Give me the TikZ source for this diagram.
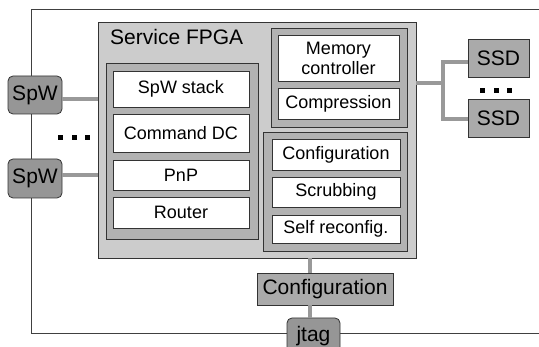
\documentclass[tikz,border=0pt]{standalone}
\usepackage{fontspec}
\setmainfont{Liberation Sans}

\tikzset{
	box/.style={draw=black!80, line width=0.8pt, inner sep=0pt, align=center, font=\fontsize{18}{20}\selectfont},
	whitebox/.style={box, fill=white},
	groupbox/.style={box, fill=gray!60},
	portbox/.style={box, fill=gray!82, rounded corners=5pt, font=\fontsize{21}{23}\selectfont},
	chipbox/.style={box, fill=gray!67, font=\fontsize{21}{23}\selectfont},
	bus/.style={draw=gray!80, line width=4.5pt},
}

\begin{document}
\begin{tikzpicture}[x=1pt, y=-1pt]
	\useasboundingbox (0,0) rectangle (539,347);
	\clip (0,0) rectangle (539,347);
	% board outline
	\draw[black!75, line width=0.8pt] (545,9) -- (31,9) -- (31,333) -- (545,333);

	% service fpga
	\node[box, fill=gray!40, minimum width=318pt, minimum height=236pt] (fpga) at (257,140) {};
	\node[anchor=base west, inner sep=0pt, font=\fontsize{21}{23}\selectfont] (title) at (110,45) {Service FPGA};

	\node[groupbox, minimum width=152pt, minimum height=176pt] (left) at (182,151) {};
	\node[whitebox, minimum width=136pt, minimum height=36pt] (stack) at (181,89) {SpW stack};
	\node[whitebox, minimum width=136pt, minimum height=38pt] (cmd) at (181,133) {Command DC};
	\node[whitebox, minimum width=136pt, minimum height=30pt] (pnp) at (181,175) {PnP};
	\node[whitebox, minimum width=136pt, minimum height=31pt] (router) at (181,212.5) {Router};

	\node[groupbox, minimum width=136pt, minimum height=99pt] (memgrp) at (339,77.5) {};
	\node[whitebox, minimum width=121pt, minimum height=46pt] (mem) at (338.5,58) {Memory\\controller};
	\node[whitebox, minimum width=121pt, minimum height=31pt] (comp) at (338.5,103.5) {Compression};

	\node[groupbox, minimum width=144pt, minimum height=119pt] (cfggrp) at (335,191.5) {};
	\node[whitebox, minimum width=128pt, minimum height=31pt] (cfg) at (336,154.5) {Configuration};
	\node[whitebox, minimum width=128pt, minimum height=30pt] (scrub) at (336,192) {Scrubbing};
	\node[whitebox, minimum width=128pt, minimum height=28pt] (self) at (336,229) {Self reconfig.};

	% spacewire ports
	\node[portbox, minimum width=54pt, minimum height=38pt] (spw1) at (35,95) {SpW};
	\node[portbox, minimum width=54pt, minimum height=39pt] (spw2) at (35,178.5) {SpW};
	\draw[draw=gray!80, line width=4pt] ([yshift=-4pt]spw1.east) -- ([yshift=-4pt]spw1.east -| fpga.west);
	\draw[draw=gray!80, line width=4pt] ([yshift=3.5pt]spw2.east) -- ([yshift=3.5pt]spw2.east -| fpga.west);
	\foreach \x in {60.5,74,87.5} \fill (\x-2.5,135.5) rectangle (\x+2.5,140.5);

	% disks
	\node[chipbox, minimum width=61pt, minimum height=38pt] (ssd1) at (498.5,58) {SSD};
	\node[chipbox, minimum width=61pt, minimum height=38pt] (ssd2) at (498.5,118) {SSD};
	\coordinate (split) at (443,83);
	\draw[bus] (split -| fpga.east) -- (split);
	\draw[bus, line join=miter] ([yshift=-4pt]ssd1.west) -| (split) |- ([yshift=-1pt]ssd2.west);
	\foreach \x in {482.5,496.5,509.5} \fill (\x-2.5,88) rectangle (\x+2.5,93);

	% configuration and jtag
	\node[chipbox, minimum width=136pt, minimum height=32pt] (config) at (325,289) {Configuration};
	\node[portbox, minimum width=53pt, minimum height=36pt] (jtag) at (313.5,336) {jtag};
	\draw[bus, line width=4pt] ([xshift=-3.5pt]jtag.north |- fpga.south) -- ([xshift=-3.5pt]jtag.north |- config.north);
	\draw[bus, line width=4pt] ([xshift=-3.5pt]jtag.north |- config.south) -- ([xshift=-3.5pt]jtag.north);
\end{tikzpicture}
\end{document}
